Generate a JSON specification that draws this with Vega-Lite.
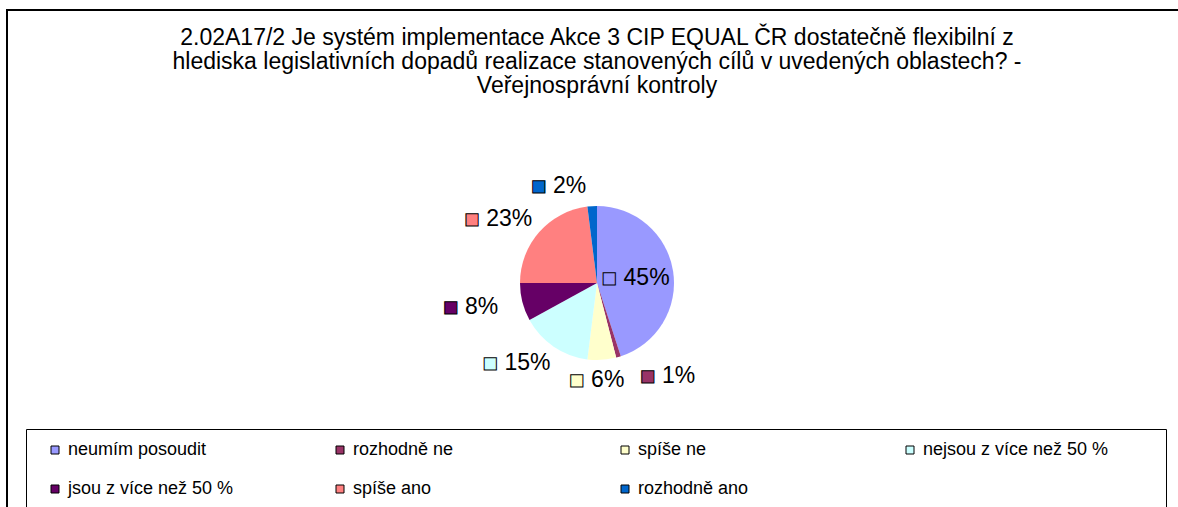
{
  "$schema": "https://vega.github.io/schema/vega-lite/v6.json",
  "width": 1180,
  "height": 546,
  "autosize": {"type": "none"},
  "padding": {"left": 7, "top": 10, "right": 0, "bottom": 0},
  "background": "white",
  "view": {"stroke": "black", "strokeWidth": 2},
  "config": {
    "view": {"stroke": "black", "strokeWidth": 2},
    "font": "Liberation Sans"
  },
  "title": {
    "text": [
      "2.02A17/2 Je systém implementace Akce 3 CIP EQUAL ČR dostatečně flexibilní z",
      "hlediska legislativních dopadů realizace stanovených cílů v uvedených oblastech? -",
      "Veřejnosprávní kontroly"
    ],
    "font": "Liberation Sans",
    "fontSize": 23,
    "fontWeight": "normal",
    "color": "black",
    "lineHeight": 24,
    "anchor": "middle",
    "offset": -88
  },
  "data": {
    "values": [
      {"cat": "neumím posoudit", "value": 0.45, "order": 1},
      {"cat": "rozhodně ne", "value": 0.01, "order": 2},
      {"cat": "spíše ne", "value": 0.06, "order": 3},
      {"cat": "nejsou z více než 50 %", "value": 0.15, "order": 4},
      {"cat": "jsou z více než 50 %", "value": 0.08, "order": 5},
      {"cat": "spíše ano", "value": 0.23, "order": 6},
      {"cat": "rozhodně ano", "value": 0.02, "order": 7}
    ]
  },
  "encoding": {
    "theta": {"field": "value", "type": "quantitative", "stack": true},
    "order": {"field": "order", "type": "quantitative"}
  },
  "layer": [
    {
      "mark": {"type": "arc", "radius": 77},
      "encoding": {
        "color": {
          "field": "cat",
          "type": "nominal",
          "scale": {
            "domain": ["neumím posoudit", "rozhodně ne", "spíše ne", "nejsou z více než 50 %", "jsou z více než 50 %", "spíše ano", "rozhodně ano"],
            "range": ["#9999FF", "#993366", "#FFFFCC", "#CCFFFF", "#660066", "#FF8080", "#0066CC"]
          },
          "legend": {
            "orient": "none",
            "legendX": 19,
            "legendY": 419,
            "columns": 4,
            "direction": "horizontal",
            "title": null,
            "symbolType": "square",
            "symbolSize": 64,
            "symbolStrokeColor": "black",
            "symbolStrokeWidth": 1,
            "labelFont": "Liberation Sans",
            "labelFontSize": 18,
            "labelColor": "black",
            "labelOffset": 4,
            "labelLimit": 500,
            "labelExpr": "datum.label + '         \u200b'",
            "columnPadding": 24,
            "rowPadding": 21,
            "gridAlign": "all",
            "padding": 12,
            "symbolOffset": 8,
            "strokeColor": "black"
          }
        }
      }
    },
    {
      "mark": {"type": "text", "radius": 35, "dx": -30, "fontSize": 16, "font": "DejaVu Sans", "stroke": "black", "strokeWidth": 1, "baseline": "middle", "align": "left"},
      "encoding": {
        "color": {"field": "cat", "type": "nominal"},
        "text": {"condition": {"test": "datum.cat === 'neumím posoudit'", "value": "■"}, "value": ""}
      }
    },
    {
      "mark": {"type": "text", "radius": 35, "dx": -8, "fontSize": 23, "color": "black", "baseline": "middle", "align": "left"},
      "encoding": {
        "text": {"condition": {"test": "datum.cat === 'neumím posoudit'", "field": "value", "format": ".0%"}, "value": ""}
      }
    },
    {
      "mark": {"type": "text", "radius": 97, "dx": 16, "fontSize": 16, "font": "DejaVu Sans", "stroke": "black", "strokeWidth": 1, "baseline": "middle", "align": "left"},
      "encoding": {
        "color": {"field": "cat", "type": "nominal"},
        "text": {"condition": {"test": "datum.cat === 'rozhodně ne'", "value": "■"}, "value": ""}
      }
    },
    {
      "mark": {"type": "text", "radius": 97, "dx": 38, "fontSize": 23, "color": "black", "baseline": "middle", "align": "left"},
      "encoding": {
        "text": {"condition": {"test": "datum.cat === 'rozhodně ne'", "field": "value", "format": ".0%"}, "value": ""}
      }
    },
    {
      "mark": {"type": "text", "radius": 97, "dx": -34, "fontSize": 16, "font": "DejaVu Sans", "stroke": "black", "strokeWidth": 1, "baseline": "middle", "align": "left"},
      "encoding": {
        "color": {"field": "cat", "type": "nominal"},
        "text": {"condition": {"test": "datum.cat === 'spíše ne'", "value": "■"}, "value": ""}
      }
    },
    {
      "mark": {"type": "text", "radius": 97, "dx": -12, "fontSize": 23, "color": "black", "baseline": "middle", "align": "left"},
      "encoding": {
        "text": {"condition": {"test": "datum.cat === 'spíše ne'", "field": "value", "format": ".0%"}, "value": ""}
      }
    },
    {
      "mark": {"type": "text", "radius": 97, "dx": -60, "fontSize": 16, "font": "DejaVu Sans", "stroke": "black", "strokeWidth": 1, "baseline": "middle", "align": "left"},
      "encoding": {
        "color": {"field": "cat", "type": "nominal"},
        "text": {"condition": {"test": "datum.cat !== 'rozhodně ne' && datum.cat !== 'neumím posoudit' && datum.cat !== 'spíše ne'", "value": "■"}, "value": ""}
      }
    },
    {
      "mark": {"type": "text", "radius": 97, "dx": -38, "fontSize": 23, "color": "black", "baseline": "middle", "align": "left"},
      "encoding": {
        "text": {"condition": {"test": "datum.cat !== 'rozhodně ne' && datum.cat !== 'neumím posoudit' && datum.cat !== 'spíše ne'", "field": "value", "format": ".0%"}, "value": ""}
      }
    }
  ]
}
